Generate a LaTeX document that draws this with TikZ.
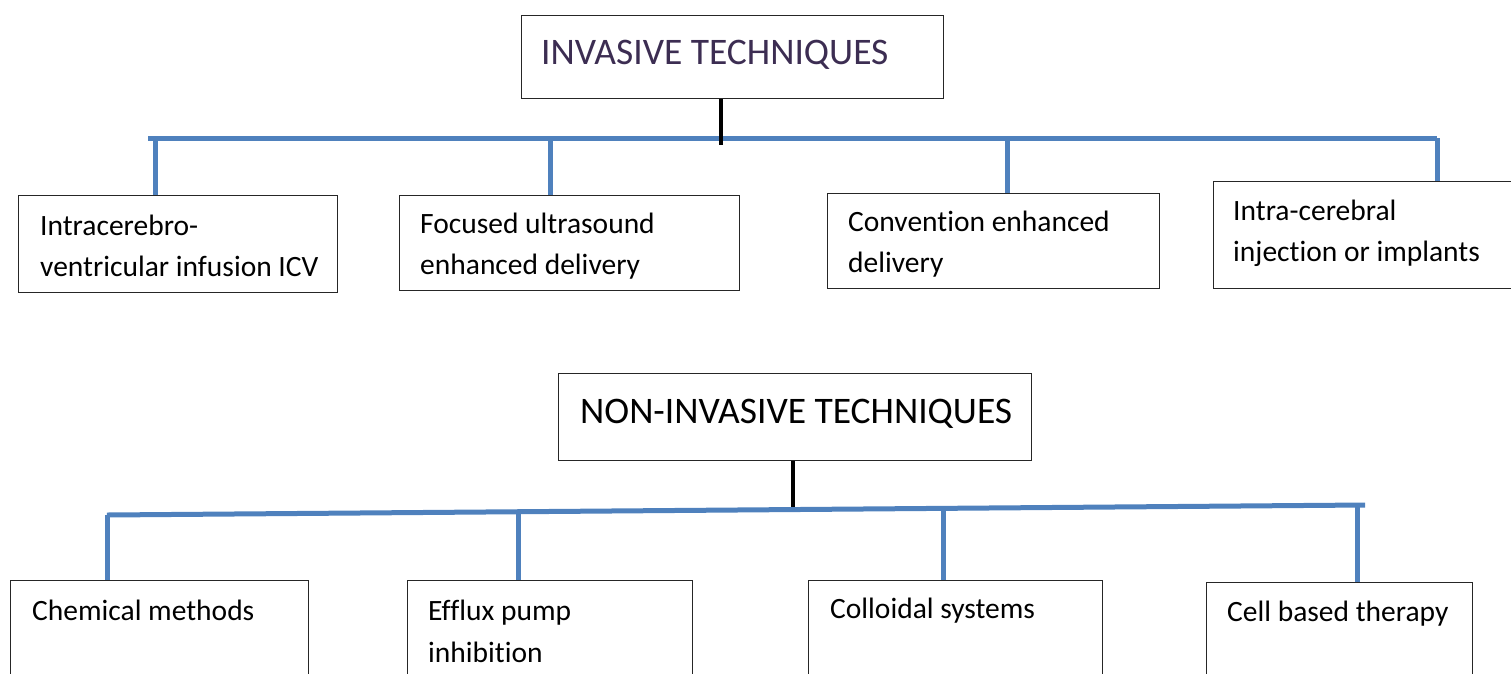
\documentclass[tikz,border=0pt]{standalone}
\usepackage{fontspec}
\setmainfont{Carlito}[Ligatures=NoCommon]
\definecolor{busblue}{RGB}{79,129,189}
\definecolor{titlepurple}{RGB}{60,45,82}
\begin{document}
\begin{tikzpicture}[x=1pt,y=-1pt,
  box/.style={draw=black!85,line width=1.2pt,inner sep=0pt,anchor=north west},
  txt/.style={anchor=base west,inner sep=0pt,font=\fontsize{29.5}{41}\selectfont},
  ttl/.style={anchor=base west,inner sep=0pt,font=\fontsize{37.5}{44}\selectfont},
  bus/.style={draw=busblue,line width=5pt},
  stem/.style={draw=black,line width=4pt}]
\useasboundingbox (0,0) rectangle (1511,673);
\clip (0,0) rectangle (1511,673);
% ---------- invasive ----------
\node[box,minimum width=422pt,minimum height=83pt] (t1) at (521,15) {};
\node[ttl,text=titlepurple] (t1txt) at (541,64) {INVASIVE TECHNIQUES};
\node[box,minimum width=319pt,minimum height=97pt] (b1) at (18,195) {};
\node[box,minimum width=340pt,minimum height=95pt] (b2) at (399,195) {};
\node[box,minimum width=332pt,minimum height=95pt] (b3) at (827,193) {};
\node[box,minimum width=310pt,minimum height=107pt] (b4) at (1213,181) {};
\node[txt] (b1a) at (40,235) {Intracerebro-};
\node[txt] (b1b) at (40,276) {ventricular infusion ICV};
\node[txt] (b2a) at (420,233) {Focused ultrasound};
\node[txt] (b2b) at (420,274) {enhanced delivery};
\node[txt] (b3a) at (848,231) {Convention enhanced};
\node[txt] (b3b) at (848,272) {delivery};
\node[txt] (b4a) at (1233,220) {Intra-cerebral};
\node[txt] (b4b) at (1233,261) {injection or implants};
\coordinate (busL1) at (148,138);
\coordinate (busR1) at (1437,138);
\coordinate (d11) at (155,138);
\coordinate (d12) at (550,138);
\coordinate (d13) at (1007,138);
\coordinate (s1) at (721,145);
\draw[bus] (busL1) -- (busR1);
\draw[bus] (d11) -- (d11 |- b1.north);
\draw[bus] (d12) -- (d12 |- b2.north);
\draw[bus] (d13) -- (d13 |- b3.north);
\draw[bus] (busR1) -- (busR1 |- b4.north);
\draw[stem] (s1 |- t1.south) -- (s1);
% ---------- non-invasive ----------
\node[box,minimum width=473pt,minimum height=87pt] (t2) at (558,373) {};
\node[ttl] (t2txt) at (580,423) {NON-INVASIVE TECHNIQUES};
\node[box,minimum width=298pt,minimum height=120pt] (c1) at (10,580) {};
\node[box,minimum width=285pt,minimum height=120pt] (c2) at (407,580) {};
\node[box,minimum width=294pt,minimum height=120pt] (c3) at (808,580) {};
\node[box,minimum width=266pt,minimum height=120pt] (c4) at (1206,582) {};
\node[txt] (c1a) at (32,620) {Chemical methods};
\node[txt] (c2a) at (428,620) {Efflux pump};
\node[txt] (c2b) at (428,662) {inhibition};
\node[txt] (c3a) at (830,618) {Colloidal systems};
\node[txt] (c4a) at (1227,621) {Cell based therapy};
\coordinate (busL2) at (107,515);
\coordinate (busR2) at (1365,505);
\coordinate (d22) at (518,512);
\coordinate (d23) at (943,509);
\coordinate (d24) at (1357,507);
\coordinate (s2) at (793,507);
\draw[bus] (busL2) -- (busR2);
\draw[bus] (busL2) -- (busL2 |- c1.north);
\draw[bus] (d22) -- (d22 |- c2.north);
\draw[bus] (d23) -- (d23 |- c3.north);
\draw[bus] (d24) -- (d24 |- c4.north);
\draw[stem] (s2 |- t2.south) -- (s2);
\end{tikzpicture}
\end{document}
